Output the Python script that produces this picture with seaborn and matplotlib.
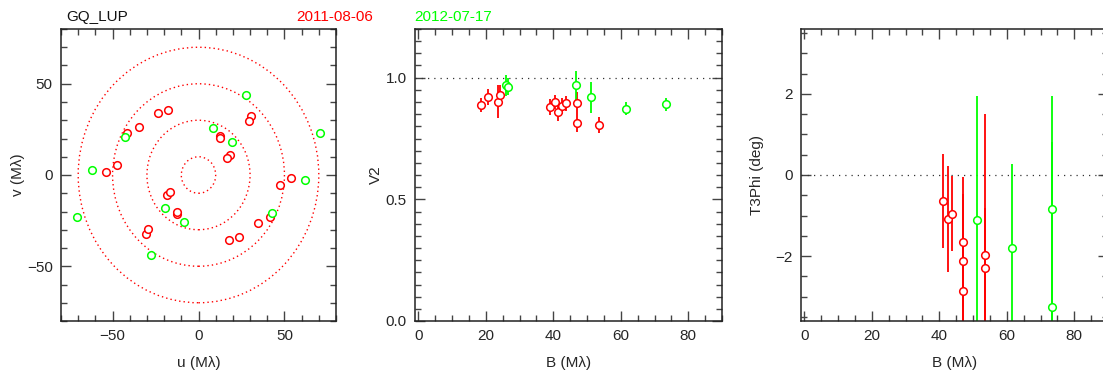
import numpy as np
import matplotlib.pyplot as plt
import matplotlib.patches as mpatches
from matplotlib.ticker import MultipleLocator
import seaborn as sns

sns.set_style("ticks")
plt.rcParams['font.family'] = ['Liberation Sans', 'DejaVu Sans']
plt.rcParams['font.size'] = 11

RED = '#ff0000'
GREEN = '#00ff00'

# uv coverage (one point per baseline, the mirrored point is plotted too)
u_red = [54.0, 47.3, 41.5, 34.5, 23.5, 17.6, 30.7, 29.4, 12.4, 12.7, 18.1, 16.7]
v_red = [-1.4, -5.7, -23.2, -26.2, -33.7, -35.4, 32.3, 29.8, 21.6, 20.5, 10.7, 9.4]
u_green = [27.8, 70.4, 8.3, 19.4, 42.5, 61.9]
v_green = [43.7, 23.0, 25.6, 18.0, -20.7, -2.5]
uv_radii = [10, 30, 50, 70]

# squared visibilities
b_v2_red = [18.6, 20.5, 23.5, 24.3, 39.0, 40.6, 41.4, 42.7, 43.9, 46.9, 46.9, 53.5]
v2_red = [0.886, 0.920, 0.901, 0.927, 0.880, 0.899, 0.858, 0.883, 0.894, 0.897, 0.814, 0.806]
v2_err_red = [0.029, 0.034, 0.068, 0.044, 0.034, 0.028, 0.036, 0.033, 0.030, 0.045, 0.038, 0.033]
b_v2_green = [26.1, 26.6, 46.6, 51.3, 61.4, 73.4]
v2_green = [0.968, 0.962, 0.968, 0.919, 0.872, 0.891]
v2_err_green = [0.043, 0.035, 0.058, 0.063, 0.026, 0.027]

# closure phases
b_t3_red = [41.2, 42.6, 43.9, 46.9, 46.9, 46.9, 53.4, 53.4]
t3_red = [-0.64, -1.08, -0.95, -1.65, -2.11, -2.85, -1.97, -2.30]
t3_err_red = [1.15, 1.31, 0.92, 1.60, 1.65, 1.20, 3.47, 1.48]
b_t3_green = [51.2, 61.4, 73.3, 73.3]
t3_green = [-1.12, -1.79, -0.84, -3.26]
t3_err_green = [3.07, 2.05, 2.79, 4.07]


def style_axes(ax, xmaj, xmin, ymaj, ymin):
    ax.xaxis.set_major_locator(MultipleLocator(xmaj))
    ax.xaxis.set_minor_locator(MultipleLocator(xmin))
    ax.yaxis.set_major_locator(MultipleLocator(ymaj))
    ax.yaxis.set_minor_locator(MultipleLocator(ymin))
    ax.tick_params(which='both', direction='in', top=True, right=True,
                   color='#444444', width=1, labelsize=11, pad=6)
    ax.tick_params(which='major', length=7)
    ax.tick_params(which='minor', length=4)
    for s in ax.spines.values():
        s.set_color('#222222')
        s.set_linewidth(1.1)


def points(ax, x, y, err, c):
    if err is not None:
        ax.errorbar(x, y, yerr=err, fmt='none', ecolor=c, elinewidth=1.3, zorder=2)
    sns.scatterplot(x=x, y=y, ax=ax, marker='o', s=30, color='white',
                    edgecolor=c, linewidth=1.1, zorder=3, legend=False)


fig = plt.figure(figsize=(11.03, 3.73), dpi=100)
ax1 = fig.add_axes([61 / 1103, 52 / 373, 275 / 1103, 292 / 373])
ax2 = fig.add_axes([415 / 1103, 52 / 373, 307 / 1103, 292 / 373])
ax3 = fig.add_axes([801 / 1103, 52 / 373, 307 / 1103, 292 / 373])

# uv plane
for r in uv_radii:
    ax1.add_patch(mpatches.Circle((0, 0), r, fill=False, ec=RED, ls=(0, (1, 2.2)), lw=1))
points(ax1, u_red + [-a for a in u_red], v_red + [-a for a in v_red], None, RED)
points(ax1, u_green + [-a for a in u_green], v_green + [-a for a in v_green], None, GREEN)
ax1.set_xlim(-80, 80)
ax1.set_ylim(-80, 80)
style_axes(ax1, 50, 10, 50, 10)
ax1.set_xlabel('u (Mλ)', labelpad=9)
ax1.set_ylabel('v (Mλ)', labelpad=1)

# V2
ax2.axhline(1.0, color='#333333', ls=(0, (1, 4)), lw=0.9, zorder=1)
points(ax2, b_v2_red, v2_red, v2_err_red, RED)
points(ax2, b_v2_green, v2_green, v2_err_green, GREEN)
ax2.set_xlim(-1, 90)
ax2.set_ylim(0, 1.2)
style_axes(ax2, 20, 5, 0.5, 0.05)
ax2.set_xlabel('B (Mλ)', labelpad=9)
ax2.set_ylabel('V2', labelpad=2)

# closure phase
ax3.axhline(0, color='#333333', ls=(0, (1, 4)), lw=0.9, zorder=1)
points(ax3, b_t3_red, t3_red, t3_err_red, RED)
points(ax3, b_t3_green, t3_green, t3_err_green, GREEN)
ax3.set_xlim(-1, 90)
ax3.set_ylim(-3.6, 3.6)
style_axes(ax3, 20, 5, 2, 0.5)
ax3.set_xlabel('B (Mλ)', labelpad=9)
ax3.set_ylabel('T3Phi (deg)', labelpad=8)

fig.text(66 / 1103, 1 - 17 / 373, 'GQ_LUP', color='#111111', fontsize=11, va='center')
fig.text(296 / 1103, 1 - 17 / 373, '2011-08-06', color=RED, fontsize=11, va='center')
fig.text(414 / 1103, 1 - 17 / 373, '2012-07-17', color=GREEN, fontsize=11, va='center')

fig.savefig('out.png', dpi=100)
